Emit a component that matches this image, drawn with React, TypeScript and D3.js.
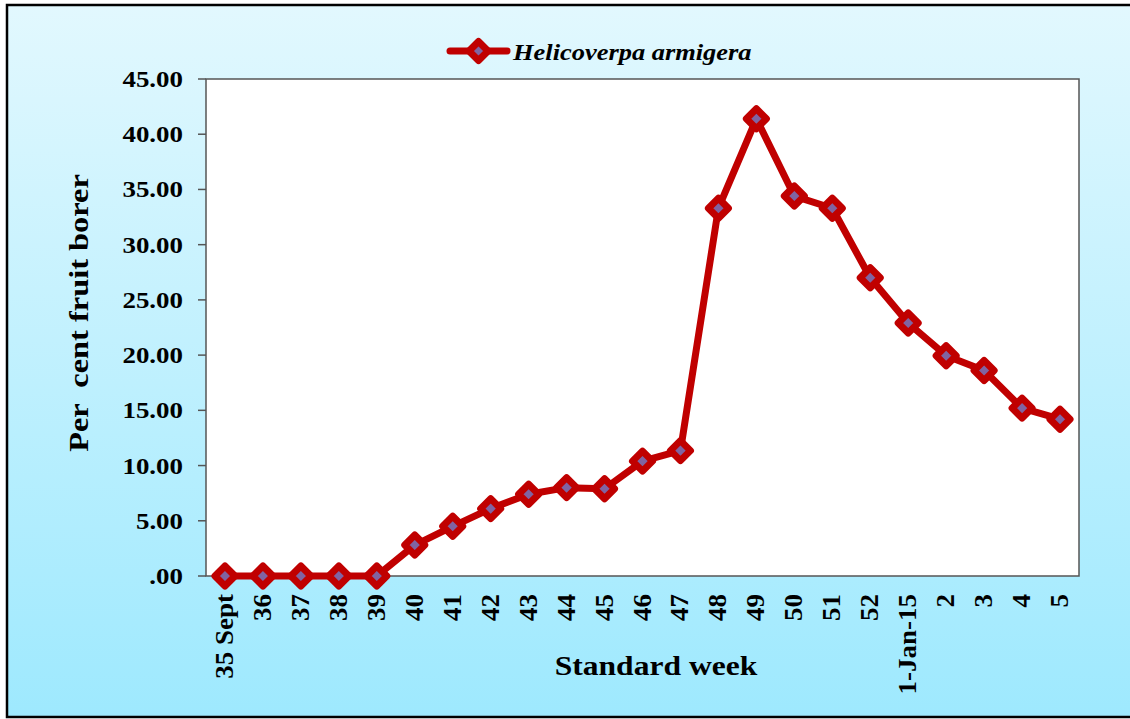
import React from "react";
import * as d3 from "d3";

const weeks = ["35 Sept","36","37","38","39","40","41","42","43","44","45","46","47","48","49","50","51","52","1-Jan-15","2","3","4","5"];
const infestation = [0,0,0,0,0,2.8,4.5,6.1,7.4,8.0,7.9,10.4,11.35,33.3,41.4,34.4,33.3,27.0,22.9,19.95,18.6,15.2,14.2];
const yTicks = [0,5,10,15,20,25,30,35,40,45];
const seriesName = "Helicoverpa armigera";

const W = 1130, H = 719;
const L = 206, R = 1079, T = 79, B = 576;

export default function App() {
  const x = d3.scaleBand<string>().domain(weeks).range([L, R]);
  const y = d3.scaleLinear().domain([0, 45]).range([B, T]);
  const cx = (w: string) => (x(w) as number) + x.bandwidth() / 2;
  const line = d3.line<number>().x((_, i) => cx(weeks[i])).y((d) => y(d));
  const fmt = (v: number) => (v === 0 ? ".00" : d3.format(".2f")(v));
  const dia = (px: number, py: number, r: number) => `M${px},${py - r}L${px + r},${py}L${px},${py + r}L${px - r},${py}Z`;
  const font = "'Liberation Serif', 'Times New Roman', serif";
  return (
    <svg width={W} height={H} style={{ position: "absolute", left: 0, top: 0 }} fontFamily={font}>
      <defs>
        <linearGradient id="bg" x1="0" y1="0" x2="0" y2="1">
          <stop offset="0" stopColor="#e2f8fe" />
          <stop offset="1" stopColor="#9ee9fe" />
        </linearGradient>
      </defs>
      <rect x={7} y={5} width={1130} height={712} fill="url(#bg)" stroke="#000" strokeWidth={2.5} />
      <rect x={L} y={T} width={R - L} height={B - T} fill="#fff" stroke="#555" strokeWidth={1.5} />
      {yTicks.map((t) => (
        <g key={t}>
          <line x1={L - 8} x2={L} y1={y(t)} y2={y(t)} stroke="#555" strokeWidth={1.5} />
          <text transform={`translate(183,${y(t)}) scale(1.17,1)`} dy="0.35em" textAnchor="end" fontSize={23} fontWeight="bold">{fmt(t)}</text>
        </g>
      ))}
      {weeks.map((w) => (
        <text key={w} transform={`translate(${cx(w) + 8},${594}) rotate(-90) scale(1.08,1)`} textAnchor="end" fontSize={25} fontWeight="bold">{w}</text>
      ))}
      <path d={line(infestation) as string} fill="none" stroke="#c00000" strokeWidth={7} strokeLinejoin="round" />
      {infestation.map((v, i) => (
        <path key={i} d={dia(cx(weeks[i]), y(v), 10)} fill="#8064a2" stroke="#c00000" strokeWidth={7} strokeLinejoin="round" />
      ))}
      <line x1={450} x2={507} y1={51} y2={51} stroke="#c00000" strokeWidth={7} strokeLinecap="round" />
      <path d={dia(478.5, 51, 9.5)} fill="#8064a2" stroke="#c00000" strokeWidth={7} strokeLinejoin="round" />
      <text transform="translate(513,60) scale(1.15,1)" fontSize={23} fontWeight="bold" fontStyle="italic">{seriesName}</text>
      <text transform={`translate(88,${313}) rotate(-90) scale(1.2,1)`} textAnchor="middle" fontSize={27} fontWeight="bold" style={{ whiteSpace: "pre" }}>{"Per  cent fruit borer"}</text>
      <text transform="translate(656,675) scale(1.17,1)" textAnchor="middle" fontSize={27} fontWeight="bold">Standard week</text>
    </svg>
  );
}
